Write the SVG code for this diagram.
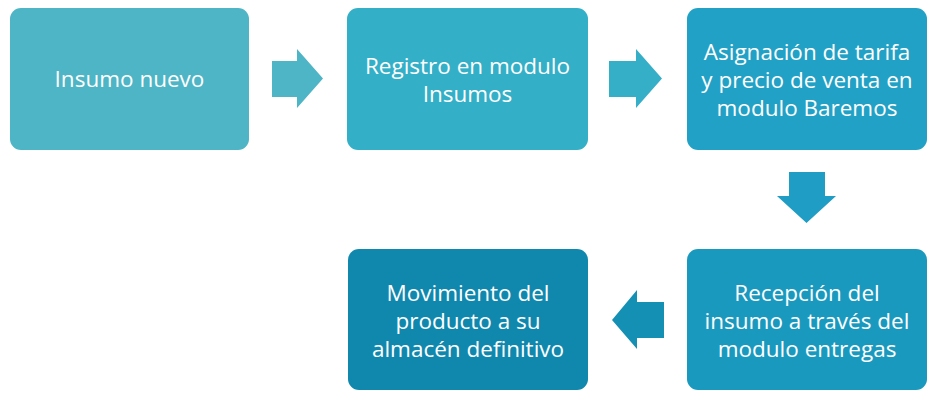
<svg xmlns="http://www.w3.org/2000/svg" width="941" height="408" viewBox="0 0 941 408">
<style>
.lbl{font-family:"Open Sans","Liberation Sans",Arial,sans-serif;font-size:22.5px;fill:#ffffff;text-anchor:middle}
</style>
<rect width="941" height="408" fill="#ffffff"/>
<g id="connectors">
<polygon points="272,61 297,61 297,49 323,78.5 297,108 297,97 272,97" fill="#4DB5C5"/>
<polygon points="609,61 636,61 636,49 662,78.5 636,108 636,97 609,97" fill="#35AFC8"/>
<polygon points="789,172 825,172 825,196 836,196 806.5,223 777,196 789,196" fill="#1F9DC4"/>
<polygon points="664,302 637,302 637,290 612,320 637,349 637,338 664,338" fill="#1590B5"/>
</g>
<g id="n1"><rect x="10" y="8" width="239" height="142" rx="11" fill="#4DB5C5"/>
<text class="lbl" x="129.5" y="87">Insumo nuevo</text></g>
<g id="n2"><rect x="347" y="8" width="241" height="142" rx="11" fill="#33AFC8"/>
<text class="lbl" x="467.5" y="74">Registro en modulo</text>
<text class="lbl" x="467.5" y="102">Insumos</text></g>
<g id="n3"><rect x="687" y="8" width="240" height="142" rx="11" fill="#22A1C6"/>
<text class="lbl" x="807" y="60">Asignación de tarifa</text>
<text class="lbl" x="807" y="88">y precio de venta en</text>
<text class="lbl" x="807" y="116">modulo Baremos</text></g>
<g id="n4"><rect x="687" y="249" width="240" height="141" rx="11" fill="#1A99BF"/>
<text class="lbl" x="807" y="301">Recepción del</text>
<text class="lbl" x="807" y="329">insumo a través del</text>
<text class="lbl" x="807" y="357">modulo entregas</text></g>
<g id="n5"><rect x="348" y="249" width="240" height="141" rx="11" fill="#1088AE"/>
<text class="lbl" x="468" y="301">Movimiento del</text>
<text class="lbl" x="468" y="329">producto a su</text>
<text class="lbl" x="468" y="357">almacén definitivo</text></g>
</svg>
